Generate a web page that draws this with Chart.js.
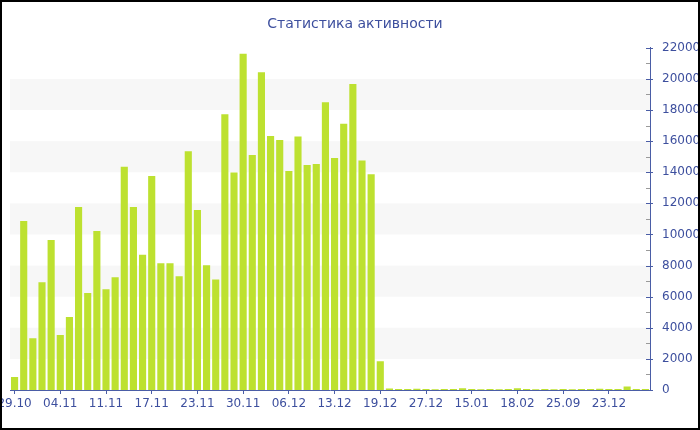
<!DOCTYPE html>
<html>
<head>
<meta charset="utf-8">
<script src="https://cdn.jsdelivr.net/npm/chart.js@4"></script>
<style>
	body { margin: 0; background: #fff; }
	#wrap { width: 700px; height: 430px; }
</style>
</head>
<body>
<div id="wrap"><canvas id="myChart" width="700" height="430"></canvas></div>
<script>
var chartTitle = 'Статистика активности';

var labels = [
	'29.10', '30.10', '31.10', '01.11', '02.11', '04.11', '05.11', '06.11', '07.11', '08.11',
	'11.11', '12.11', '13.11', '14.11', '15.11', '17.11', '18.11', '19.11', '20.11', '21.11',
	'23.11', '24.11', '25.11', '26.11', '27.11', '30.11', '01.12', '02.12', '03.12', '04.12',
	'06.12', '07.12', '08.12', '09.12', '10.12', '13.12', '14.12', '15.12', '16.12', '17.12',
	'19.12', '20.12', '22.12', '24.12', '25.12', '27.12', '29.12', '03.01', '08.01', '11.01',
	'15.01', '20.01', '27.01', '03.02', '10.02', '18.02', '04.03', '15.04', '20.05', '12.07',
	'25.09', '14.10', '05.11', '20.11', '10.12', '23.12', '05.01', '20.01', '02.02', '15.02'
];

var activity = [
	840, 10870, 3320, 6920, 9650, 3540, 4690, 11770, 6240, 10230,
	6480, 7250, 14360, 11770, 8700, 13760, 8150, 8150, 7310, 15350,
	11580, 8020, 7100, 17730, 13980, 21610, 15110, 20430, 16330, 16080,
	14080, 16290, 14470, 14530, 18500, 14920, 17110, 19680, 14750, 13870,
	1850, 90, 70, 60, 80, 60, 50, 70, 60, 110,
	60, 50, 60, 50, 70, 110, 60, 50, 60, 50,
	60, 50, 60, 70, 80, 60, 70, 230, 60, 70
];

var yMax = 22000;
var yStep = 2000;

var blue = '#4a5da6';
var textBlue = '#3d4f9e';

// светлые полосы между линиями сетки + засечки на правой оси + рамка
var decor = {
	id: 'decor',
	beforeDatasetsDraw: function(chart) {
		var ctx = chart.ctx, area = chart.chartArea, y = chart.scales.y;
		ctx.save();
		ctx.fillStyle = '#f7f7f7';
		for (var v = yStep; v < yMax; v += yStep * 2) {
			var top = y.getPixelForValue(v + yStep);
			var bot = y.getPixelForValue(v);
			ctx.fillRect(area.left, top, area.right - area.left, bot - top);
		}
		ctx.restore();
	},
	afterDraw: function(chart) {
		var ctx = chart.ctx, area = chart.chartArea, y = chart.scales.y;
		ctx.save();
		ctx.lineWidth = 1;
		for (var v = 0; v <= yMax; v += yStep / 2) {
			var py = Math.round(y.getPixelForValue(v)) + 0.5;
			var major = v % yStep === 0;
			ctx.strokeStyle = major ? blue : '#9a9a9a';
			ctx.beginPath();
			ctx.moveTo(area.right - 4, py);
			ctx.lineTo(area.right + (major ? 3 : 0), py);
			ctx.stroke();
		}
		ctx.strokeStyle = '#000';
		ctx.lineWidth = 2;
		ctx.strokeRect(1, 1, chart.width - 2, chart.height - 2);
		ctx.restore();
	}
};

var ctx = document.getElementById('myChart').getContext('2d');
var myChart = new Chart(ctx, {
	type: 'bar',
	data: {
		labels: labels,
		datasets: [{
			label: 'Активность',
			data: activity,
			backgroundColor: 'rgb(189, 225, 48)',
			borderWidth: 0,
			barPercentage: 0.78,
			categoryPercentage: 1
		}]
	},
	options: {
		responsive: false,
		animation: false,
		layout: { padding: { left: 10, right: 0, top: 0, bottom: 0 } },
		plugins: {
			legend: { display: false },
			tooltip: { enabled: false },
			title: {
				display: true,
				text: chartTitle,
				color: textBlue,
				font: { family: 'DejaVu Sans', size: 14, weight: 'normal' },
				padding: { top: 16, bottom: 15 }
			}
		},
		scales: {
			x: {
				offset: true,
				grid: {
					display: true,
					offset: false,
					drawOnChartArea: false,
					tickLength: 4,
					color: function(c) {
						return c.index % 5 === 0 ? blue : 'rgba(0,0,0,0)';
					}
				},
				border: { display: true, color: blue, width: 1 },
				ticks: {
					autoSkip: false,
					maxRotation: 0,
					padding: 3,
					color: textBlue,
					font: { family: 'DejaVu Sans', size: 12 },
					callback: function(value, index) {
						return index % 5 === 0 ? labels[index] : '';
					}
				},
				afterFit: function(scale) {
					scale.height = 40;
					// первая подпись может выходить за край, как в оригинале
					scale.paddingLeft = 0;
					scale.paddingRight = 0;
				}
			},
			y: {
				position: 'right',
				min: 0,
				max: yMax,
				grid: { display: false },
				border: { display: true, color: blue, width: 1 },
				ticks: {
					stepSize: yStep,
					padding: 4,
					color: textBlue,
					font: { family: 'DejaVu Sans', size: 12 },
					callback: function(value) { return String(value); }
				},
				afterFit: function(scale) { scale.width = 50; }
			}
		}
	},
	plugins: [decor]
});
</script>
</body>
</html>
